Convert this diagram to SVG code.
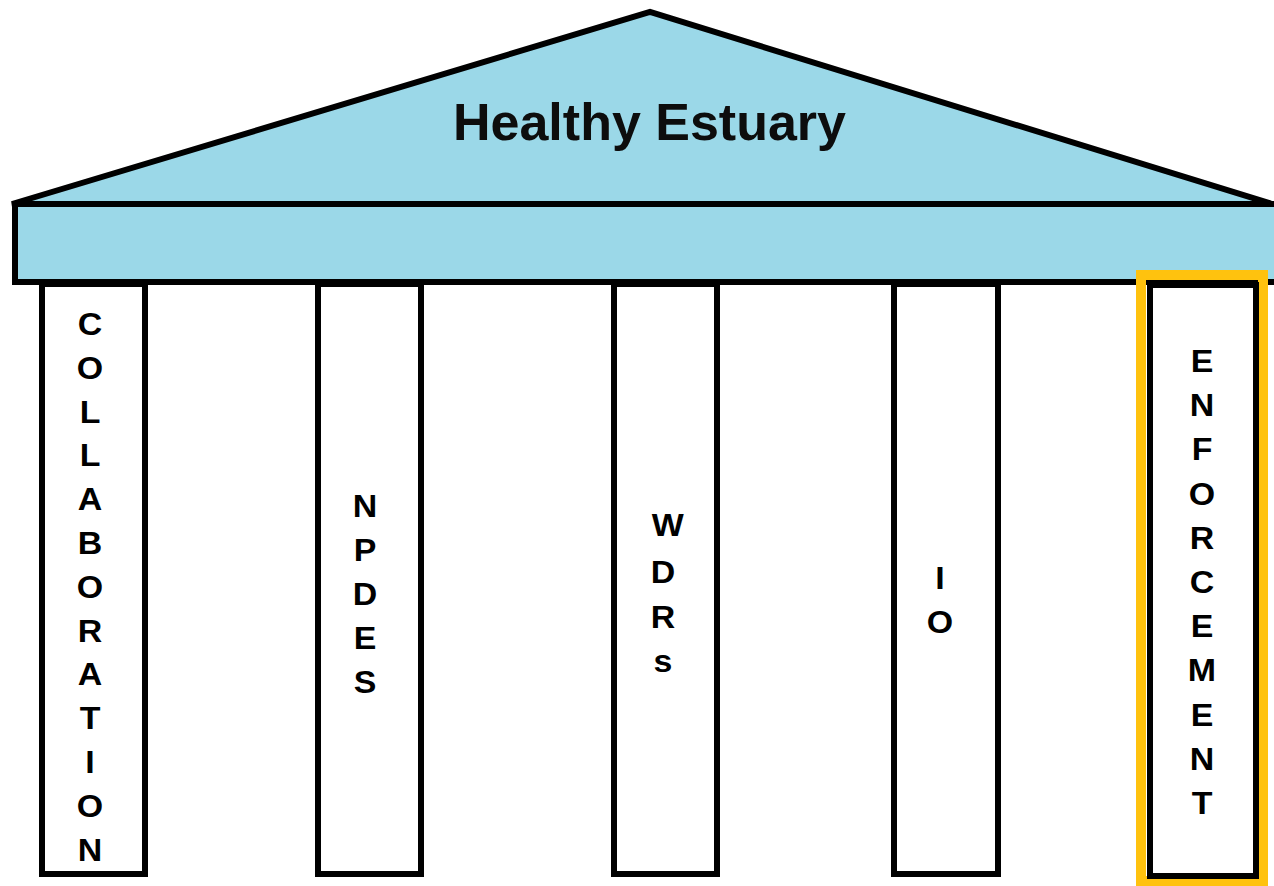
<svg xmlns="http://www.w3.org/2000/svg" width="1274" height="886" viewBox="0 0 1274 886">
<style>
.roof{fill:#9BD8E8;stroke:#000;stroke-width:6;stroke-linejoin:miter}
.pillar{fill:#fff;stroke:#000;stroke-width:6}
.lbl{font-family:"Liberation Sans",Arial,sans-serif;font-weight:bold;font-size:32px;fill:#000;text-anchor:middle}
.title{font-family:"Liberation Sans",Arial,sans-serif;font-weight:bold;font-size:52px;fill:#0d0d0d;text-anchor:middle}
</style>
<rect width="1274" height="886" fill="#fff"/>
<g id="roof">
<polygon class="roof" points="12,204 650,12 1272,204"/>
<text class="title" x="649.5" y="140">Healthy Estuary</text>
</g>
<g id="beam">
<rect class="roof" x="15" y="204" width="1270" height="78"/>
</g>
<g id="collaboration">
<rect class="pillar" x="42" y="284" width="103" height="590"/>
<text class="lbl" transform="translate(90,0) scale(1.06,1)" y="335"><tspan x="0">C</tspan><tspan x="0" dy="43.8">O</tspan><tspan x="0" dy="43.8">L</tspan><tspan x="0" dy="43.8">L</tspan><tspan x="0" dy="43.8">A</tspan><tspan x="0" dy="43.8">B</tspan><tspan x="0" dy="43.8">O</tspan><tspan x="0" dy="43.8">R</tspan><tspan x="0" dy="43.8">A</tspan><tspan x="0" dy="43.8">T</tspan><tspan x="0" dy="43.8">I</tspan><tspan x="0" dy="43.8">O</tspan><tspan x="0" dy="43.8">N</tspan></text>
</g>
<g id="npdes">
<rect class="pillar" x="318" y="284" width="103" height="590"/>
<text class="lbl" transform="translate(365,0) scale(1.06,1)" y="517"><tspan x="0">N</tspan><tspan x="0" dy="44">P</tspan><tspan x="0" dy="44">D</tspan><tspan x="0" dy="44">E</tspan><tspan x="0" dy="44">S</tspan></text>
</g>
<g id="wdrs">
<rect class="pillar" x="614" y="284" width="103" height="590"/>
<text class="lbl" transform="translate(663,0) scale(1.06,1)" y="536"><tspan x="4.5">W</tspan><tspan x="0" dy="47">D</tspan><tspan x="0" dy="45">R</tspan><tspan x="0" dy="44">s</tspan></text>
</g>
<g id="io">
<rect class="pillar" x="894" y="284" width="104" height="590"/>
<text class="lbl" transform="translate(940,0) scale(1.06,1)" y="589"><tspan x="0">I</tspan><tspan x="0" dy="44">O</tspan></text>
</g>
<g id="enforcement">
<rect x="1141" y="275" width="122" height="606" fill="none" stroke="#FFC20E" stroke-width="10"/>
<rect class="pillar" x="1150" y="285" width="106" height="591"/>
<text class="lbl" transform="translate(1202,0) scale(1.06,1)" y="372"><tspan x="0">E</tspan><tspan x="0" dy="44.2">N</tspan><tspan x="0" dy="44.2">F</tspan><tspan x="0" dy="44.2">O</tspan><tspan x="0" dy="44.2">R</tspan><tspan x="0" dy="44.2">C</tspan><tspan x="0" dy="44.2">E</tspan><tspan x="0" dy="44.2">M</tspan><tspan x="0" dy="44.2">E</tspan><tspan x="0" dy="44.2">N</tspan><tspan x="0" dy="44.2">T</tspan></text>
</g>
<g id="connectors"></g>
</svg>
